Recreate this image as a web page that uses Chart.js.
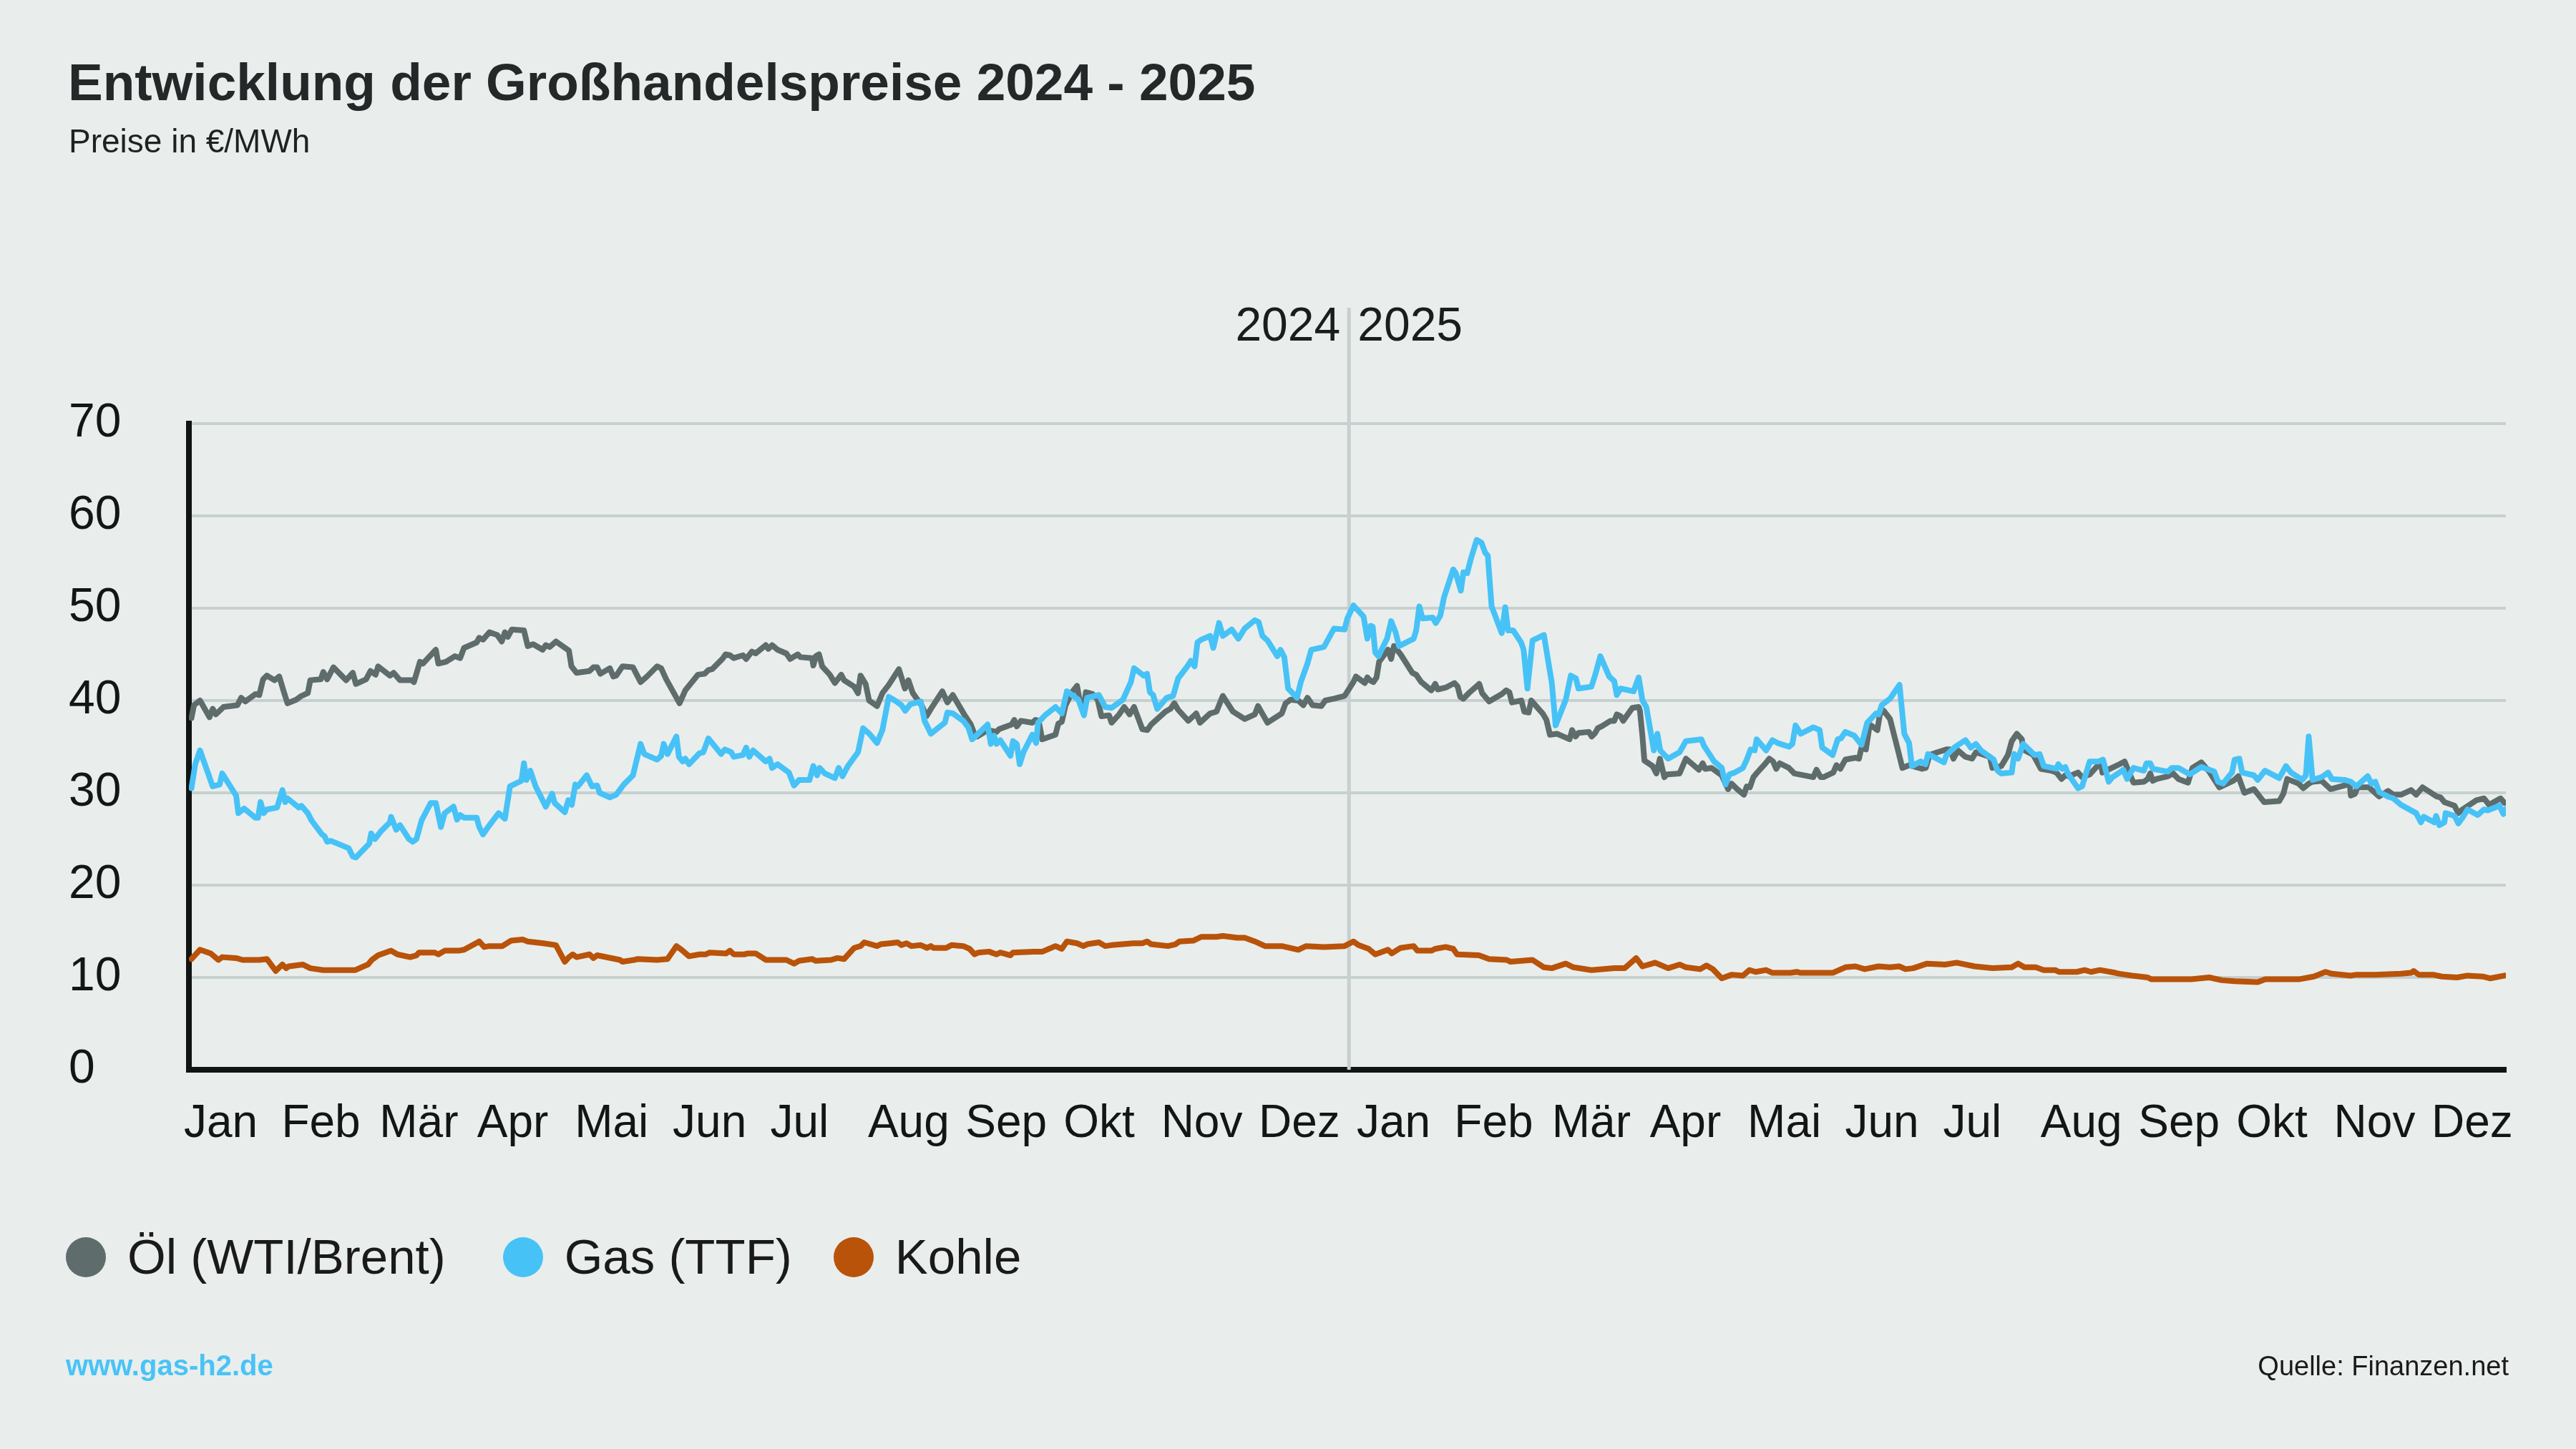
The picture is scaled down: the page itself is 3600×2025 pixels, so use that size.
<!DOCTYPE html>
<html lang="de">
<head>
<meta charset="utf-8">
<title>Entwicklung der Großhandelspreise 2024 - 2025</title>
<script src="https://cdn.jsdelivr.net/npm/chart.js@4.4.1/dist/chart.umd.min.js"></script>
<style>
  html, body { margin: 0; padding: 0; background: #e9eeec; }
  #wrap { position: relative; width: 3600px; height: 2025px; overflow: hidden;
          font-family: "Liberation Sans", Arial, sans-serif; color: #1f2222; }
  #chart { position: absolute; left: 0; top: 0; }
  .txt { position: absolute; line-height: 1; white-space: nowrap; }
  #titel { left: 95px; top: 78px; font-size: 73px; font-weight: bold; color: #252828; }
  #untertitel { left: 96px; top: 174px; font-size: 46px; }
  #legende { position: absolute; left: 92px; top: 1722px; display: flex; align-items: center;
             font-size: 69px; line-height: 1; color: #1a1a1a; }
  .eintrag { display: flex; align-items: center; margin-right: 80px; }
  .eintrag:nth-child(2) { margin-right: 58px; }
  .punkt { width: 56px; height: 56px; border-radius: 50%; margin-right: 30px; }
  #web { left: 92px; top: 1888px; font-size: 40px; font-weight: bold; color: #48c3f7; }
  #quelle { right: 94px; top: 1890px; font-size: 38px; color: #1a1a1a; }
</style>
</head>
<body>
<div id="wrap">
  <canvas id="chart" width="3600" height="2025"></canvas>
  <div id="titel" class="txt">Entwicklung der Großhandelspreise 2024 - 2025</div>
  <div id="untertitel" class="txt">Preise in €/MWh</div>
  <div id="legende"></div>
  <div id="web" class="txt">www.gas-h2.de</div>
  <div id="quelle" class="txt">Quelle: Finanzen.net</div>
</div>
<script>
// Tage ab 1.1.2024, Preis in €/MWh
const monate = ['Jan', 'Feb', 'Mär', 'Apr', 'Mai', 'Jun', 'Jul', 'Aug', 'Sep', 'Okt', 'Nov', 'Dez'];
// Beschriftungsplätze der Monatsnamen (in Tagen, wie in der Vorlage gleichmäßig verteilt)
const monatsTicks = [0, 30.8, 61.7, 92.5, 123.3, 154.2, 185, 215.8, 246.6, 277.5, 308.3, 339.1,
                     370, 400.8, 431.6, 462.5, 493.3, 524.1, 555, 585.8, 616.6, 647.5, 678.3, 709.1];
const jahresWechsel = 366;
const yTicks = [0, 10, 20, 30, 40, 50, 60, 70];

const oel = [
  [0.8,38.1],[1.6,39.5],[3.5,40.0],[6.5,38.2],[7.5,39.1],[8.5,38.5],[10.9,39.3],[15.3,39.5],[16.5,40.3],[17.8,39.9],
  [21,40.7],[22.2,40.6],[23.4,42.3],[24.6,42.7],[27,42.2],[28.5,42.6],[29.9,41.0],[31.1,39.7],[33.9,40.1],[35.5,40.5],
  [37.5,40.8],[38.3,42.2],[41.6,42.3],[42.4,43.1],[43.6,42.3],[45.6,43.6],[49.6,42.2],[51.7,43.0],[52.7,41.8],[55.9,42.3],
  [57.3,43.2],[58.9,42.8],[59.7,43.7],[63.4,42.7],[64.6,43.0],[66.6,42.2],[70.2,42.2],[71,42.0],[72.9,44.2],[73.8,44.0],
  [77.9,45.5],[78.7,44.0],[81.1,44.2],[83.9,44.8],[85.6,44.6],[86.8,45.7],[90.8,46.3],[91.6,46.8],[92.8,46.6],[94.8,47.4],
  [97.3,47.1],[98.7,46.4],[99.7,47.4],[100.6,46.9],[101.9,47.7],[105.7,47.6],[106.9,45.9],[108.6,46.1],[111.6,45.5],[112.6,46.0],
  [113.8,45.8],[115.8,46.4],[119.9,45.4],[120.7,43.7],[122.3,43.0],[126.4,43.2],[127.6,43.6],[128.8,43.6],[129.8,42.9],[132.8,43.5],
  [133.9,42.6],[134.8,42.7],[136.8,43.7],[140.1,43.6],[142.5,42.0],[144.5,42.6],[147.7,43.7],[149,43.5],[150.6,42.3],[154.8,39.7],
  [156.6,41.1],[160.6,42.8],[162.7,42.9],[163.9,43.3],[165.1,43.4],[168.3,44.5],[169.3,45.0],[170.7,44.9],[171.9,44.6],[174.8,44.9],
  [175.8,44.5],[177.6,45.3],[178.8,45.1],[182,46.0],[182.8,45.6],[184,46.0],[185.7,45.5],[188.5,45.1],[189.7,44.5],[192.1,45.0],
  [192.9,44.7],[196.6,44.6],[197,43.8],[197.8,44.8],[198.8,45.0],[199.8,43.7],[202.2,42.8],[203.8,41.9],[205.8,42.8],[206.7,42.2],
  [209.9,41.5],[211.1,40.8],[211.9,42.7],[213.5,41.8],[214.6,40.0],[217.1,39.4],[218.8,40.8],[220.8,41.7],[224,43.4],[225.9,41.3],
  [227,42.2],[228.4,40.8],[231.3,39.4],[232.7,38.3],[234.1,39.1],[237.7,41.0],[239.3,39.8],[241,40.6],[244.6,38.5],[246.7,37.4],
  [247.9,36.3],[248.7,36.1],[252,36.8],[254.8,36.6],[255.6,36.9],[259.6,37.4],[260.4,37.9],[261.2,37.2],[262.5,37.8],[266.1,37.6],
  [267.1,37.9],[268.1,37.8],[269.2,35.8],[273.4,36.3],[274.3,37.5],[275.4,37.7],[276.6,39.5],[278.6,40.9],[280.2,41.6],[281,40.1],
  [282.2,38.9],[283,40.9],[285.1,40.7],[286.7,40.1],[287.9,38.3],[290.3,38.4],[291.1,37.6],[293.5,38.5],[295.1,39.3],[296.8,38.5],
  [298.2,39.3],[300.8,36.9],[302.4,36.8],[303.6,37.4],[308.1,38.8],[309.7,39.1],[310.9,39.7],[312.1,39.0],[315.3,37.8],[317.8,38.6],
  [319,37.6],[322.2,38.6],[324.2,38.8],[326.2,40.5],[329.4,38.8],[333.1,38.0],[336.3,38.5],[337.3,39.4],[340.3,37.6],[344.8,38.6],
  [346,39.7],[347.6,40.1],[350,40.0],[351.6,39.5],[352.9,40.3],[354.5,39.5],[357.3,39.4],[358.5,40.0],[361.3,40.2],[364.6,40.5],
  [367.4,42.0],[368.2,42.6],[371,41.9],[371.8,42.5],[372.6,42.2],[373.7,42.0],[374.7,42.5],[375.5,44.2],[378.3,45.5],[379.3,44.5],
  [380.2,45.9],[382.3,45.0],[386,43.0],[387.2,42.8],[388.8,42.0],[392,41.1],[393.2,41.8],[394,41.2],[396.5,41.4],[399.3,41.9],
  [400.3,41.5],[401.1,40.4],[402.1,40.2],[404.1,40.9],[407.1,41.8],[408,40.8],[410.2,39.9],[414.2,40.7],[415.6,41.1],[416.6,40.9],
  [417.4,39.8],[420.4,40.0],[421.3,38.8],[422.7,38.7],[423.5,40.0],[427.1,38.6],[428.3,37.9],[429.4,36.3],[431.6,36.4],[435.6,35.8],
  [436.4,36.8],[437.5,36.1],[438.4,36.5],[441.7,36.6],[442.6,36.1],[443.7,36.5],[444.5,37.0],[445.7,37.2],[448.5,37.8],[449.7,37.8],
  [450.5,38.5],[451.7,38.3],[452.5,37.8],[455.4,39.2],[457.4,39.3],[457.8,38.9],[458.6,36.1],[459.2,33.5],[461.8,32.9],[463,32.1],
  [464.1,33.7],[465.5,31.7],[466.3,32.0],[470.3,32.1],[472.3,33.7],[476.4,32.5],[477.6,33.2],[478.4,32.6],[480.4,32.7],[483.6,31.9],
  [485.6,30.4],[486.7,31.0],[488.5,30.4],[490.6,29.8],[491.5,30.7],[492.5,30.6],[493.6,31.7],[494.8,32.2],[497.2,33.1],[498.6,33.7],
  [499.8,33.4],[500.8,32.6],[501.9,33.2],[504.8,32.7],[506.5,32.1],[512.5,31.7],[513.5,32.5],[514.8,31.7],[515.7,31.7],[518.8,32.2],
  [519.8,33.0],[521,32.6],[522.6,33.6],[525.8,33.8],[526.9,33.7],[527.7,34.9],[529.1,34.7],[530.3,37.4],[532.7,36.8],[533.5,38.5],
  [534.7,38.9],[536.7,38.0],[538.7,35.3],[540.6,32.7],[542.8,33.0],[546.8,32.6],[548,32.7],[549.2,34.1],[551.7,34.4],[554.5,34.7],
  [555.7,34.7],[556.7,33.7],[558.1,34.6],[560.5,33.9],[562.6,33.7],[563.8,34.4],[568.2,33.9],[569,32.7],[571.8,32.9],[573.9,34.1],
  [575.1,35.6],[576.7,36.4],[578.3,35.8],[578.7,34.7],[581.9,34.1],[584.3,32.6],[587.6,32.4],[589.2,32.2],[590.8,31.5],[592,31.9],
  [593.2,31.8],[596,32.2],[597.3,31.7],[599.7,32.0],[602.1,32.9],[603.3,33.0],[603.7,32.2],[606.1,32.6],[609.1,33.1],[610.7,33.4],
  [611.9,32.4],[613.5,31.1],[616.8,31.2],[618,31.5],[618.8,32.1],[619.6,31.3],[620.8,31.5],[624.4,31.8],[626,32.1],[627.7,31.5],
  [630.7,31.1],[632.1,32.7],[634.9,33.3],[637.4,32.3],[640.6,30.6],[645,31.3],[646.6,31.8],[648.5,30.0],[651.5,30.4],[654.7,29.0],
  [659.5,29.1],[660.8,29.9],[662,31.5],[665.6,31.0],[667.1,30.5],[668.8,31.0],[670,31.2],[672.9,31.3],[675.7,30.4],[680.1,30.8],
  [681.7,31.0],[682.1,29.7],[683.4,29.9],[684.2,30.6],[687.8,30.6],[691,29.6],[693.8,30.2],[695.5,29.8],[697.9,29.8],[701.1,30.3],
  [702.7,29.8],[704.7,30.6],[709.2,29.6],[710.4,29.5],[711.6,29.0],[714.8,28.6],[716,27.8],[717.3,28.2],[721.7,29.2],[724.1,29.4],
  [725.7,28.7],[729.3,29.4],[730.6,28.9]
];

const gas = [
  [0.8,30.5],[2.0,33.1],[3.5,34.6],[7.5,30.7],[9.7,30.9],[10.5,32.1],[14.9,29.7],[15.6,27.8],[17.4,28.3],[21,27.3],
  [21.8,27.3],[22.6,29.0],[23.6,27.8],[24.6,28.2],[27.8,28.4],[29.5,30.3],[30.4,29.0],[31.1,29.4],[34.7,28.4],[35.5,28.6],
  [37.5,27.8],[38.7,27.0],[42,25.5],[42.8,25.3],[43.6,24.7],[44.8,24.8],[50.4,24.0],[51.7,23.1],[52.7,23.0],[56.9,24.5],
  [57.5,25.6],[58.7,25.0],[60.5,25.8],[63.4,26.8],[63.8,27.4],[65.4,26.0],[66.6,26.5],[69.4,25.0],[70.6,24.7],[71.8,25.0],
  [73.4,27.0],[76.3,28.9],[77.9,28.9],[79.5,26.3],[80.7,27.8],[83.5,28.5],[84.6,27.1],[85.6,27.6],[86.8,27.3],[90.8,27.3],
  [91.6,26.3],[92.8,25.5],[94.4,26.3],[97.7,27.8],[99.7,27.2],[101.3,30.7],[104.9,31.3],[105.7,33.2],[106.5,31.4],[107.7,32.4],
  [109.4,30.7],[112.6,28.5],[114.6,29.9],[115.4,28.9],[118.6,27.9],[119.7,29.2],[120.8,28.7],[121.9,30.9],[122.7,30.7],[125.5,31.9],
  [127.2,30.7],[128.8,30.8],[129.6,30.0],[132.8,29.5],[134.8,29.8],[137.2,30.9],[140.1,31.9],[142.5,35.3],[143.7,34.2],[147.7,33.6],
  [149,34.0],[149.8,35.3],[151,34.2],[153.8,36.1],[154.6,33.9],[155.8,33.4],[156.6,33.7],[157.8,33.1],[161.1,34.3],[162.3,34.4],
  [163.9,35.9],[167.9,34.2],[169.1,34.7],[171.1,34.4],[171.9,33.9],[174.8,34.1],[175.8,34.9],[176.8,33.9],[178,34.6],[182,33.4],
  [183.2,33.7],[184,32.7],[185.7,33.1],[189.3,32.2],[190.9,30.8],[192.5,31.4],[195.8,31.4],[197,32.9],[198.2,31.9],[199,32.7],
  [200.6,32.1],[203.8,31.6],[205,32.7],[206.2,31.8],[207.9,32.9],[211.1,34.4],[212.7,37.0],[214.7,36.4],[217.1,35.4],[218.8,36.8],
  [220.8,40.4],[223.2,39.9],[224.8,39.5],[226,38.9],[227.6,39.6],[230.9,39.9],[232.1,37.8],[234.1,36.4],[238.5,37.6],[239.3,38.7],
  [241,38.6],[244.3,37.8],[245.9,37.1],[247.1,35.8],[248.7,36.3],[252,37.4],[253,35.3],[254,36.2],[254.8,35.3],[256,35.7],
  [259.2,34.0],[260,35.6],[261.2,35.3],[262.1,33.1],[263.3,34.4],[266.1,36.3],[267.3,35.4],[267.9,37.6],[270.1,38.4],[273.4,39.3],
  [275.4,38.6],[277,41.0],[280.6,40.1],[282.4,38.4],[283.4,40.3],[287.1,40.6],[289.1,39.3],[291.1,39.2],[294.7,40.1],[297.2,42.0],
  [298.2,43.5],[301.2,42.7],[302.3,42.9],[303.2,40.9],[304.2,40.6],[305.5,39.1],[308.5,40.3],[310.5,40.5],[312.1,42.4],[315,43.7],
  [316.1,44.3],[317.3,43.7],[318.2,46.3],[319.4,46.6],[322.2,47.0],[323.2,45.7],[325,48.4],[326.2,47.0],[329,47.7],[331.1,46.7],
  [333.1,47.8],[336.3,48.7],[337.5,48.5],[338.7,47.0],[340.3,46.5],[343.4,44.8],[344.4,45.5],[345.6,44.7],[346.8,41.3],[349.6,40.3],
  [350.8,42.0],[352.9,44.0],[354.1,45.5],[358.1,45.8],[361.3,47.8],[364.6,47.7],[365.5,48.9],[367.4,50.3],[370.6,49.1],[371.8,46.7],
  [372.9,48.1],[373.5,48.0],[374.3,45.2],[375.3,44.8],[378,46.7],[379.3,48.6],[380.7,47.4],[381.8,45.9],[386.4,46.7],[387.2,47.6],
  [388.2,50.2],[389.2,48.9],[392.4,49.0],[393.4,48.4],[394.8,49.2],[396,51.2],[398.9,54.2],[399.7,53.8],[401.3,51.9],[402.1,53.9],
  [403.3,53.8],[404.5,55.4],[406.3,57.4],[407.8,57.1],[409,56.0],[409.8,55.7],[411,50.2],[414.2,47.3],[415.3,50.1],[416.2,47.6],
  [417.8,47.6],[420.3,46.3],[421.1,45.5],[422.3,41.3],[423.9,46.5],[427.5,47.1],[430,41.9],[431.2,37.3],[434.4,40.1],[436,42.7],
  [437.6,42.4],[438.4,41.3],[442.5,41.5],[443.7,42.8],[445.3,44.8],[448.1,42.6],[449.7,42.1],[450.5,40.6],[451.7,41.3],[455.8,41.0],
  [457.4,42.5],[458.6,40.0],[459.8,39.3],[462.2,34.6],[463.3,36.4],[464.2,34.6],[466.7,33.7],[470.3,34.4],[472.3,35.6],[477.2,35.8],
  [478,35.1],[481.2,33.4],[483.6,32.7],[484.8,30.9],[486,32.0],[487.7,32.2],[490.3,32.7],[491.5,33.6],[492.7,34.7],[494,34.6],
  [494.6,35.8],[497.6,34.6],[499.6,35.7],[501.2,35.4],[504.8,35.0],[505.9,35.3],[506.9,37.3],[508.5,36.4],[512.5,37.1],[514.5,36.8],
  [515.3,34.9],[518.6,34.1],[520.2,35.8],[521.2,35.9],[522.6,36.6],[525.4,36.2],[527.7,35.2],[529.5,37.6],[532.3,38.6],[533.1,38.5],
  [534.1,39.5],[536.7,40.2],[539.7,41.7],[541.2,36.4],[542.7,35.4],[543.6,32.9],[546.4,33.4],[547.9,33.1],[548.7,34.2],[553.7,33.3],
  [554.5,34.1],[557.3,35.0],[560.5,35.7],[562.2,34.9],[563.8,35.3],[565.4,34.6],[567.8,34.0],[569.4,33.6],[570.6,32.4],[571.8,32.1],
  [575.1,32.2],[575.9,34.2],[577.1,33.7],[578.7,35.3],[582.3,34.1],[583.9,34.2],[585.2,32.9],[589.2,32.6],[589.8,33.1],[591,32.6],
  [592,32.8],[592.8,32.1],[596,30.5],[597.3,30.7],[599.7,33.4],[602.5,33.4],[603.9,33.6],[605.7,31.2],[606.9,31.7],[609.1,32.2],
  [610.3,32.5],[611.5,31.5],[613.5,32.7],[616.8,32.4],[617.6,33.2],[618.8,33.2],[619.6,32.6],[624.4,32.3],[625.6,32.7],[627.7,32.7],
  [631.3,32.0],[634.9,32.8],[639,32.3],[640.2,31.2],[641.8,31.0],[644.6,32.2],[645.4,33.6],[646.9,33.7],[647.8,32.2],[651.5,31.9],
  [652.7,31.4],[655,32.4],[659.5,31.6],[661.6,32.9],[663.2,32.2],[666.8,31.4],[667.9,31.9],[668.8,36.1],[670,31.4],[672.9,31.7],
  [674.9,32.2],[676.1,31.5],[680.1,31.4],[682.1,31.2],[683.8,30.7],[687.4,31.8],[688.6,31.0],[689.8,31.2],[691,30.1],[693.8,29.6],
  [695.5,29.4],[697.9,28.7],[702.7,27.8],[704.2,26.8],[705.1,27.4],[708.4,26.8],[709,27.5],[710,26.5],[711.6,26.8],[712,27.8],
  [714.8,27.5],[716,26.7],[717.3,27.3],[718.9,28.2],[722.1,27.6],[724.1,28.2],[725.3,28.1],[729,28.6],[730.2,27.7],[730.8,28.2]
];

const kohle = [
  [0.8,12.0],[3.5,13.0],[6.9,12.6],[9.3,11.9],[10.5,12.2],[14.9,12.1],[16.9,11.9],[22.2,11.9],[24.6,12.0],[27.4,10.7],
  [29.5,11.4],[30.7,11.0],[31.5,11.2],[35.9,11.4],[38.3,11.0],[42.4,10.8],[49.6,10.8],[52.5,10.8],[56.5,11.4],[57.7,11.9],
  [59.7,12.4],[63.8,12.9],[65.8,12.5],[69.8,12.2],[71.8,12.4],[72.6,12.7],[77.5,12.7],[78.7,12.5],[80.7,12.9],[85.1,12.9],
  [86.8,13.0],[91.6,13.9],[93.2,13.3],[94.8,13.4],[98.9,13.4],[101.7,14.0],[105.3,14.1],[106.9,13.9],[111.8,13.7],[115.8,13.5],
  [118.6,11.7],[119.9,12.2],[121.1,12.5],[122.3,12.2],[126.4,12.5],[127.6,12.1],[128.8,12.4],[136,11.9],[136.8,11.7],[140.5,11.9],
  [141.7,12.0],[147.7,11.9],[151,12.0],[153.8,13.4],[155.4,13.0],[157.8,12.3],[161.1,12.5],[163.1,12.5],[164.3,12.7],[169.5,12.6],
  [170.7,12.9],[171.9,12.5],[175.2,12.5],[176.4,12.6],[178.8,12.6],[182,11.9],[185.7,11.9],[188.5,11.9],[190.9,11.5],[192.5,11.8],
  [196.6,12.0],[197.8,11.8],[202.6,11.9],[204.6,12.1],[206.7,12.0],[209.9,13.2],[211.9,13.4],[213.1,13.8],[217.1,13.4],[218.3,13.6],
  [221.2,13.7],[223.6,13.8],[224.8,13.5],[226.4,13.7],[228,13.4],[230.9,13.5],[232.9,13.2],[234.1,13.4],[234.9,13.2],[238.9,13.2],
  [240.6,13.5],[244.3,13.4],[246.3,13.1],[247.9,12.5],[249.1,12.7],[252.4,12.8],[254.8,12.5],[256,12.7],[259.2,12.4],[260,12.7],
  [266.5,12.8],[269.3,12.8],[273.4,13.4],[275.4,13.1],[277,13.9],[280.2,13.7],[282.2,13.4],[283.4,13.6],[287.1,13.8],[289.1,13.4],
  [291.1,13.5],[298,13.7],[300.8,13.7],[302.3,13.9],[303.6,13.6],[308.9,13.4],[311.3,13.6],[312.5,13.9],[317,14.0],[319.4,14.4],
  [324.2,14.4],[326.2,14.5],[330.7,14.3],[333.1,14.3],[336.3,13.9],[339.5,13.4],[344.8,13.4],[350,13.0],[352.5,13.4],[358.1,13.3],
  [364.6,13.4],[367.4,13.9],[369,13.5],[372.2,13.1],[374.3,12.5],[378.3,13.0],[379.5,12.6],[382.3,13.2],[386.4,13.4],[387.6,12.9],
  [392,12.9],[393.2,13.1],[396.5,13.3],[398.9,13.1],[400.1,12.5],[407,12.4],[410.2,12.0],[415.8,11.9],[417,11.7],[423.9,11.9],
  [427.5,11.1],[430,11.0],[434.4,11.5],[436.8,11.1],[442.5,10.8],[449.7,11.0],[453,11.0],[456.6,12.1],[458.6,11.2],[462.6,11.6],
  [466.7,11.0],[470.3,11.4],[472.3,11.1],[476.8,10.9],[478.8,11.3],[480.8,10.9],[483.6,9.9],[486.8,10.3],[490.3,10.2],[492.3,10.8],
  [494.3,10.6],[497.6,10.8],[499.6,10.5],[505.3,10.5],[507.3,10.6],[508.5,10.5],[513.3,10.5],[518.6,10.5],[522.6,11.1],[525.8,11.2],
  [528.7,10.9],[533.1,11.2],[536.7,11.1],[539.6,11.2],[541.6,10.9],[544,11.0],[548.4,11.5],[554.1,11.4],[557.7,11.6],[563.4,11.2],
  [569,11.0],[575.1,11.1],[577.1,11.5],[579.1,11.1],[582.7,11.1],[585.2,10.8],[588.8,10.8],[590,10.6],[595.6,10.6],[598.1,10.8],
  [600.1,10.6],[602.9,10.8],[607.8,10.5],[609.1,10.4],[613.1,10.2],[618,10.0],[619.2,9.8],[626,9.8],[631.7,9.8],[637.4,10.0],
  [641.4,9.7],[645.4,9.6],[652.7,9.5],[655.1,9.8],[660.8,9.8],[665.6,9.8],[670.4,10.1],[674.1,10.6],[676.1,10.4],[682.1,10.2],
  [683.8,10.3],[689.8,10.3],[697.9,10.4],[701.1,10.5],[701.9,10.7],[703.5,10.3],[708,10.3],[710.8,10.1],[715.6,10.0],[718.9,10.2],
  [723.7,10.1],[726.1,9.9],[730.6,10.2]
];

const serien = [
  { name: 'Öl (WTI/Brent)', werte: oel, farbe: '#5f6c6c', ebene: 1 },
  { name: 'Gas (TTF)', werte: gas, farbe: '#47c2f7', ebene: 0 },
  { name: 'Kohle', werte: kohle, farbe: '#b9530a', ebene: 2 }
];

const gitterFarbe = '#c6d0cf';
const schrift = '"Liberation Sans", Arial, sans-serif';

// Trennlinie 2024 | 2025 mit Jahreszahlen
const jahresTrenner = {
  id: 'jahresTrenner',
  beforeDatasetsDraw(chart) {
    const { ctx, chartArea, scales } = chart;
    const px = scales.x.getPixelForValue(jahresWechsel);
    ctx.save();
    ctx.strokeStyle = gitterFarbe;
    ctx.lineWidth = 5;
    ctx.beginPath();
    ctx.moveTo(px, chartArea.top - 162);
    ctx.lineTo(px, chartArea.bottom);
    ctx.stroke();
    ctx.font = '66px ' + schrift;
    ctx.fillStyle = '#1b1d1d';
    ctx.textBaseline = 'alphabetic';
    ctx.textAlign = 'right';
    ctx.fillText('2024', px - 12, chartArea.top - 116);
    ctx.textAlign = 'left';
    ctx.fillText('2025', px + 12, chartArea.top - 116);
    ctx.restore();
  }
};

new Chart(document.getElementById('chart'), {
  type: 'line',
  data: {
    datasets: serien.map(s => ({
      label: s.name,
      data: s.werte.map(p => ({ x: p[0], y: p[1] })),
      borderColor: s.farbe,
      backgroundColor: s.farbe,
      borderWidth: 8,
      borderJoinStyle: 'round',
      borderCapStyle: 'round',
      pointRadius: 0,
      tension: 0,
      order: s.ebene
    }))
  },
  options: {
    responsive: false,
    devicePixelRatio: 1,
    animation: false,
    layout: { padding: { left: 96, top: 592, right: 98, bottom: 410 } },
    plugins: { legend: { display: false }, tooltip: { enabled: false } },
    scales: {
      x: {
        type: 'linear',
        min: 0,
        max: 731,
        afterFit(s) { s.height = 120; },
        afterBuildTicks(s) { s.ticks = monatsTicks.map(v => ({ value: v })); },
        grid: { display: false },
        border: { display: true, color: '#121414', width: 8 },
        ticks: {
          autoSkip: false,
          maxRotation: 0,
          align: 'start',
          labelOffset: -7,
          padding: 30,
          color: '#141616',
          font: { family: schrift, size: 64 },
          callback: (v, i) => monate[i % 12]
        }
      },
      y: {
        min: 0,
        max: 70,
        afterFit(s) { s.width = 168; },
        afterBuildTicks(s) { s.ticks = yTicks.map(v => ({ value: v })); },
        grid: { color: gitterFarbe, lineWidth: 4, drawTicks: false },
        border: { display: true, color: '#121414', width: 8 },
        ticks: {
          crossAlign: 'far',
          padding: 0,
          color: '#141616',
          font: { family: schrift, size: 66 }
        }
      }
    }
  },
  plugins: [jahresTrenner]
});

// Legende als HTML
const legende = document.getElementById('legende');
serien.forEach(s => {
  const e = document.createElement('div');
  e.className = 'eintrag';
  const p = document.createElement('span');
  p.className = 'punkt';
  p.style.background = s.farbe;
  const t = document.createElement('span');
  t.textContent = s.name;
  e.append(p, t);
  legende.append(e);
});
</script>
</body>
</html>
